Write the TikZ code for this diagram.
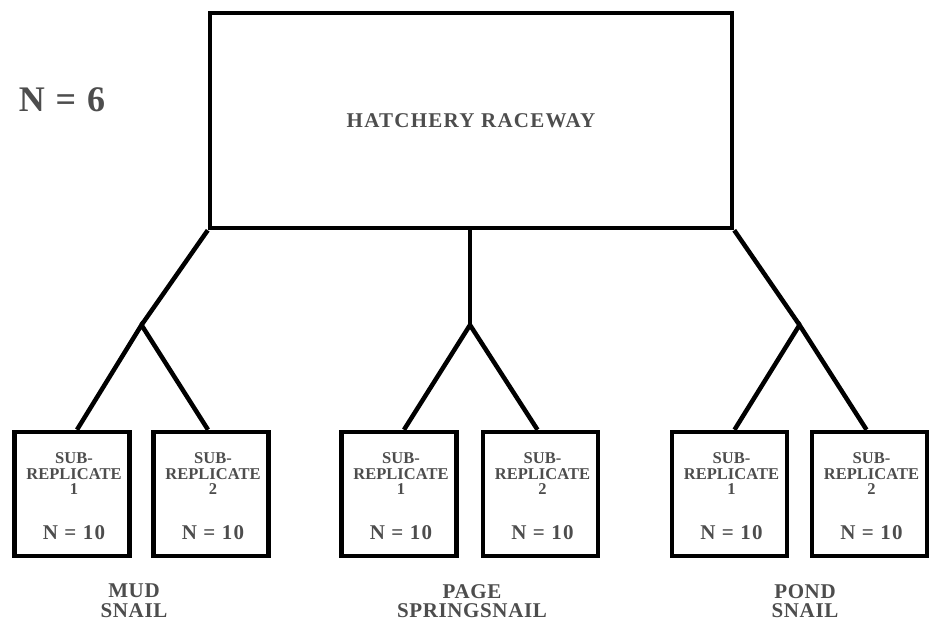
\documentclass[tikz,border=0pt]{standalone}
\usepackage{fontspec}
\setmainfont{Liberation Serif}
\definecolor{txtgray}{HTML}{4D4D4D}
\tikzset{
  conn/.style={line width=4.5pt, draw=black},
  bigbox/.style={draw=black, line width=4.5pt, minimum width=522pt, minimum height=215pt, inner sep=0pt},
  subbox/.style={draw=black, line width=4.5pt, minimum width=115pt, minimum height=124pt, inner sep=0pt},
  lbl/.style={text=txtgray, inner sep=0pt, anchor=base},
  subtxt/.style={lbl, anchor=north, align=center, font=\fontsize{16.5}{15.5}\selectfont\bfseries},
  ntxt/.style={lbl, font=\fontsize{21}{21}\selectfont\bfseries\addfontfeature{LetterSpace=6}},
  grptxt/.style={lbl, anchor=north, align=center, font=\fontsize{21}{19.5}\selectfont\bfseries\addfontfeature{LetterSpace=3}}
}
\begin{document}
\begin{tikzpicture}[x=1pt,y=-1pt]
\useasboundingbox (0,0) rectangle (929,624);
\node[bigbox, text=txtgray, font=\fontsize{21}{21}\selectfont\bfseries\addfontfeature{LetterSpace=6}] (big) at (471,120.5) {HATCHERY RACEWAY};
\node[lbl, font=\fontsize{36}{36}\selectfont\bfseries\addfontfeature{LetterSpace=5}] (n6) at (62,111) {N = 6};
\foreach \n/\x/\k/\dx in {m1/72/1/5, m2/211/2/-3, p1/399/1/5, p2/540.5/2/-3, o1/729.5/1/5, o2/869.5/2/-3} {
  \node[subbox] (\n) at (\x,494) {};
  \node[subtxt] (\n-a) at ([xshift=2pt,yshift=-23pt]\n.north) {SUB-\\REPLICATE\\\k};
  \node[ntxt] (\n-d) at ([xshift=2pt,yshift=-110pt]\n.north) {N = 10};
  \coordinate (\n-top) at ([xshift=\dx pt]\n.north);
}
\coordinate (j1) at (141.5,325);
\coordinate (j2) at (470,325);
\coordinate (j3) at (799.5,325);
\draw[conn] (big.south west) -- (j1);
\draw[conn] (big.south -| j2) -- (j2);
\draw[conn] (big.south east) -- (j3);
\draw[conn] (m1-top) -- (j1) -- (m2-top);
\draw[conn] (p1-top) -- (j2) -- (p2-top);
\draw[conn] (o1-top) -- (j3) -- (o2-top);
\node[grptxt] (g1) at (134,584) {MUD\\SNAIL};
\node[grptxt] (g2) at (472,584) {PAGE\\SPRINGSNAIL};
\node[grptxt] (g3) at (805,584) {POND\\SNAIL};
\end{tikzpicture}
\end{document}
